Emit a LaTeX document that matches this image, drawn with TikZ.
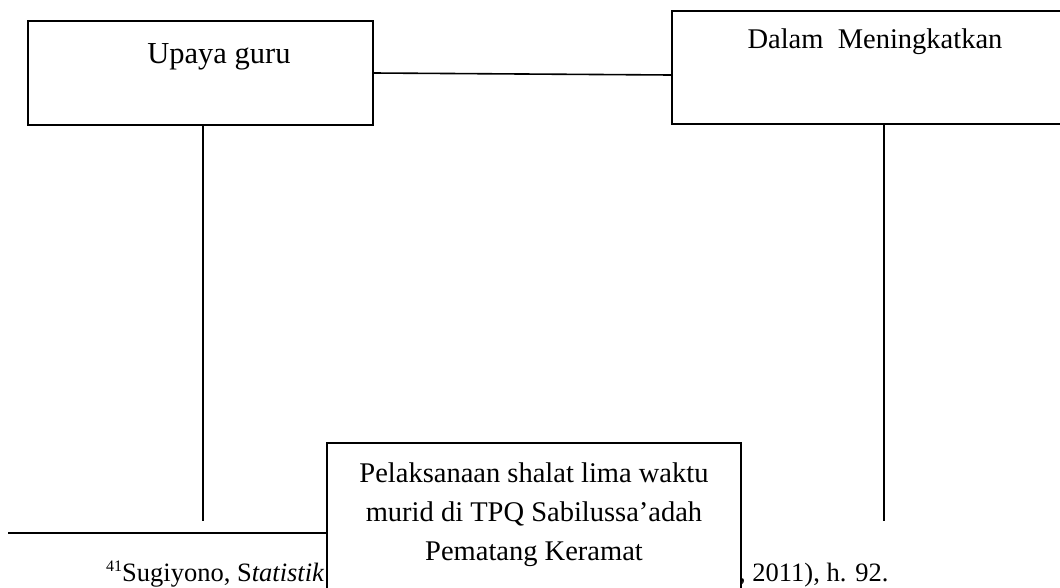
\documentclass[tikz,border=0pt]{standalone}
\usepackage{fontspec}
\setmainfont{Liberation Serif}
\begin{document}
\begin{tikzpicture}[x=1pt,y=-1pt,
  boxnode/.style={draw=black,line width=1.8pt,fill=white,inner sep=0pt},
  conn/.style={draw=black,line width=1.6pt},
  bigtxt/.style={inner sep=0pt,font=\fontsize{28.5}{39}\selectfont},
  foot/.style={inner sep=0pt,font=\fontsize{26.5}{30}\selectfont}]
\useasboundingbox (0,0) rectangle (1060,587);
\clip (0,0) rectangle (1060,587);
% footnote text and rule
\node[foot,anchor=base west] (fn1) at (106,581) {\raisebox{10pt}{\fontsize{16}{16}\selectfont 41}Sugiyono, S\textit{tatistik}};
\node[foot,anchor=base west] (fn2) at (739,581) {, 2011), h. 92.};
% boxes
\node[boxnode,minimum width=345pt,minimum height=104pt] (A) at (200.5,73) {};
\node[boxnode,minimum width=403pt,minimum height=113pt] (B) at (873.5,67.5) {};
\coordinate (r0) at (8,533);
\node[boxnode,minimum width=414pt,minimum height=157pt] (C) at (534,521.5) {};
\draw[line width=2.6pt] (r0) -- (r0 -| C.west);
% texts
\node[bigtxt,anchor=base,font=\fontsize{30.5}{36}\selectfont] (tA) at (219,63) {Upaya guru};
\node[bigtxt,anchor=base] (tB) at (875,48) {Dalam\ \ Meningkatkan};
\node[bigtxt,anchor=base] (tC1) at (534,482) {Pelaksanaan shalat lima waktu};
\node[bigtxt,anchor=base] (tC2) at (534,521) {murid di TPQ Sabilussa’adah};
\node[bigtxt,anchor=base] (tC3) at (534,560) {Pematang Keramat};
% connectors
\coordinate (a1) at (203,521);
\coordinate (b1) at (884,521);
\draw[conn] (A.east) -- ([yshift=-7.5pt]B.west);
\draw[conn] ([xshift=2.5pt]A.south) -- (a1);
\draw[conn] ([xshift=10.5pt]B.south) -- (b1);
\end{tikzpicture}
\end{document}
